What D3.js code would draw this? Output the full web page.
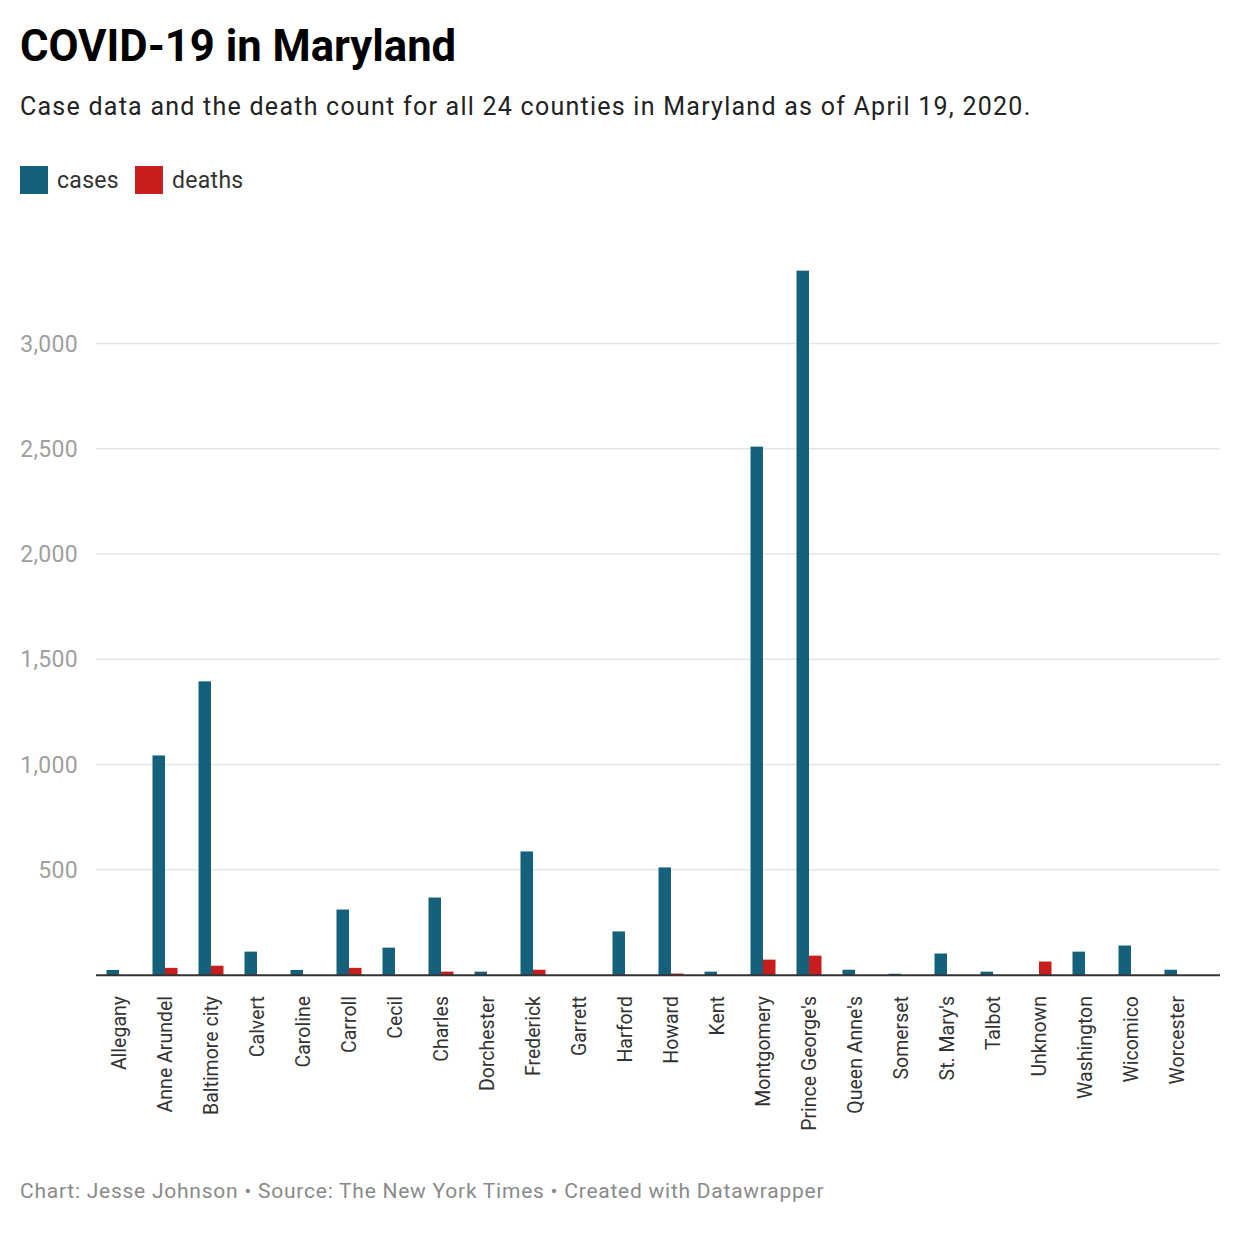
<!DOCTYPE html>
<html>
<head>
<meta charset="UTF-8" />
<title>COVID-19 in Maryland</title>
<style>
  body { margin: 0; background: #fff; font-family: Roboto, "Noto Sans", sans-serif; }
  .title { font-weight: 700; font-size: 43.6px; fill: #000; }
  .subtitle { font-size: 25px; fill: #222; letter-spacing: 1.25px; }
  .legend text { font-size: 23px; fill: #333; letter-spacing: 0.3px; }
  .ytick text { font-size: 23px; fill: #a0a0a0; letter-spacing: 0.3px; }
  .grid line { stroke: #e5e5e5; stroke-width: 1.3px; }
  .xlabel { font-size: 19.5px; fill: #333; }
  .footer { font-size: 21px; fill: #8a8a8a; letter-spacing: 0.75px; }
</style>
<script src="https://cdnjs.cloudflare.com/ajax/libs/d3/7.8.5/d3.min.js"></script>
</head>
<body>
<script>
var counties = ["Allegany", "Anne Arundel", "Baltimore city", "Calvert", "Caroline", "Carroll",
  "Cecil", "Charles", "Dorchester", "Frederick", "Garrett", "Harford", "Howard", "Kent",
  "Montgomery", "Prince George's", "Queen Anne's", "Somerset", "St. Mary's", "Talbot",
  "Unknown", "Washington", "Wicomico", "Worcester"];
var cases = [24, 1043, 1395, 111, 24, 311, 130, 368, 16, 587, 0, 207, 511, 16,
  2510, 3346, 25, 6, 102, 16, 0, 111, 140, 25];
var deaths = [0, 34, 44, 0, 0, 34, 0, 16, 0, 25, 0, 0, 7, 0,
  73, 92, 0, 0, 0, 0, 64, 0, 0, 0];
var seriesNames = ["cases", "deaths"];
var seriesColors = ["#15607a", "#c71e1d"];
var yTicks = [500, 1000, 1500, 2000, 2500, 3000];

var width = 1240, height = 1240;

var svg = d3.select("body").append("svg")
    .attr("width", width)
    .attr("height", height);

// header
svg.append("text").attr("class", "title").attr("x", 20).attr("y", 61)
  .text("COVID-19 in Maryland");
svg.append("text").attr("class", "subtitle").attr("x", 20).attr("y", 115)
  .text("Case data and the death count for all 24 counties in Maryland as of April 19, 2020.");

// legend
var legend = svg.append("g").attr("class", "legend").attr("transform", "translate(20,166)");
var lx = 0;
seriesNames.forEach(function(name, i) {
  var g = legend.append("g").attr("transform", "translate(" + lx + ",0)");
  g.append("rect").attr("width", 28).attr("height", 28).attr("fill", seriesColors[i]);
  var t = g.append("text").attr("x", 37).attr("y", 22).text(name);
  lx += 37 + t.node().getComputedTextLength() + 16;
});

// scales
var x0 = d3.scaleBand()
    .domain(counties)
    .range([96, 96 + 46 * counties.length])
    .paddingInner(0).paddingOuter(0);

var x1 = d3.scaleBand()
    .domain(seriesNames)
    .range([10.5, 35.5]);

var y = d3.scaleLinear()
    .domain([0, 3000])
    .range([975, 343.5]);

// grid
var grid = svg.append("g").attr("class", "grid");
grid.selectAll("line").data(yTicks).enter().append("line")
  .attr("x1", 96).attr("x2", 1220)
  .attr("y1", function(d) { return y(d); })
  .attr("y2", function(d) { return y(d); });

var fmt = d3.format(",");
svg.append("g").attr("class", "ytick").selectAll("text").data(yTicks).enter().append("text")
  .attr("x", 78).attr("y", function(d) { return y(d); })
  .attr("dy", "0.35em")
  .attr("text-anchor", "end")
  .text(function(d) { return fmt(d); });

// bars
var rows = counties.map(function(c, i) { return {county: c, values: [cases[i], deaths[i]]}; });

var groups = svg.append("g").selectAll("g").data(rows).enter().append("g")
  .attr("transform", function(d) { return "translate(" + x0(d.county) + ",0)"; });

groups.selectAll("rect")
  .data(function(d) { return d.values.map(function(v, i) { return {key: seriesNames[i], value: v, i: i}; }); })
  .enter().append("rect")
  .attr("x", function(d) { return x1(d.key); })
  .attr("width", x1.bandwidth())
  .attr("y", function(d) { return y(d.value); })
  .attr("height", function(d) { return y(0) - y(d.value); })
  .attr("fill", function(d) { return seriesColors[d.i]; });

// baseline
svg.append("line")
  .attr("x1", 96).attr("x2", 1220)
  .attr("y1", y(0) + 0.3).attr("y2", y(0) + 0.3)
  .attr("stroke", "#333").attr("stroke-width", 2);

// x labels
svg.append("g").selectAll("text").data(counties).enter().append("text")
  .attr("class", "xlabel")
  .attr("text-anchor", "end")
  .attr("transform", function(d) {
    return "translate(" + (x0(d) + x0.bandwidth() / 2 + 1) + ",996) rotate(-90)";
  })
  .attr("dy", "0.32em")
  .text(function(d) { return d; });

// footer
svg.append("text").attr("class", "footer").attr("x", 20).attr("y", 1198)
  .text("Chart: Jesse Johnson \u2022 Source: The New York Times \u2022 Created with Datawrapper");
</script>
</body>
</html>
